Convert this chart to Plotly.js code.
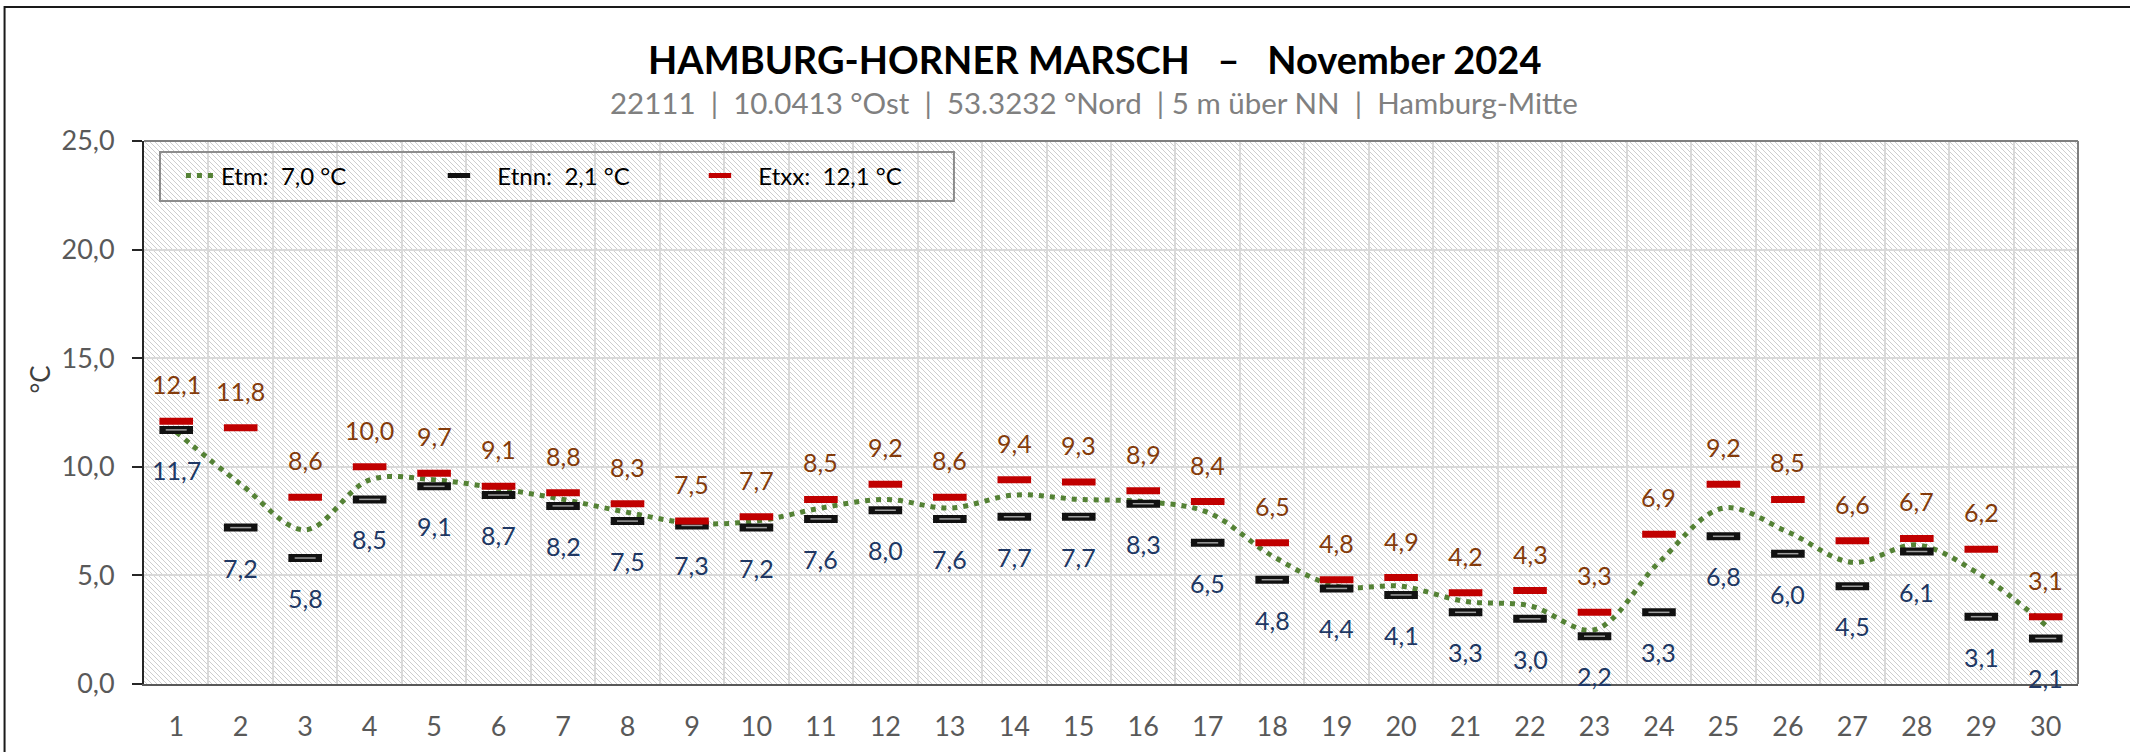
<!DOCTYPE html>
<html>
<head>
<meta charset="utf-8">
<script src="https://cdn.plot.ly/plotly-3.0.1.min.js"></script>
<style>
  html, body { margin: 0; padding: 0; background: #ffffff; }
  #chart { width: 2130px; height: 752px; }
</style>
</head>
<body>
<div id="chart"></div>
<script>
// ---- data ----
const days = [1,2,3,4,5,6,7,8,9,10,11,12,13,14,15,16,17,18,19,20,21,22,23,24,25,26,27,28,29,30];
const etm  = [11.6,9.2,7.1,9.4,9.4,9.0,8.5,7.9,7.4,7.5,8.1,8.5,8.1,8.7,8.5,8.4,7.9,5.9,4.5,4.5,3.8,3.6,2.5,5.6,8.1,7.0,5.6,6.4,5.0,2.7];
const etnn = [11.7,7.2,5.8,8.5,9.1,8.7,8.2,7.5,7.3,7.2,7.6,8.0,7.6,7.7,7.7,8.3,6.5,4.8,4.4,4.1,3.3,3.0,2.2,3.3,6.8,6.0,4.5,6.1,3.1,2.1];
const etxx = [12.1,11.8,8.6,10.0,9.7,9.1,8.8,8.3,7.5,7.7,8.5,9.2,8.6,9.4,9.3,8.9,8.4,6.5,4.8,4.9,4.2,4.3,3.3,6.9,9.2,8.5,6.6,6.7,6.2,3.1];
const seriesNames = ['Etm:\u00a0\u00a07,0 °C', '\u00a0\u00a0\u00a0Etnn:\u00a0\u00a02,1 °C', '\u00a0\u00a0\u00a0Etxx:\u00a0\u00a012,1 °C'];
const titleText = 'HAMBURG-HORNER MARSCH\u00a0\u00a0\u00a0–\u00a0\u00a0\u00a0November 2024';
const subtitleText = '22111\u00a0\u00a0|\u00a0\u00a010.0413 °Ost\u00a0\u00a0|\u00a0\u00a053.3232 °Nord\u00a0\u00a0|\u00a05 m über NN\u00a0\u00a0|\u00a0\u00a0Hamburg-Mitte';
const yTitle = '°C';

const FONT = 'Lato, "Open Sans", sans-serif';
const fmt = v => v.toFixed(1).replace('.', ',');
const xcats = days.map(String);

// hatch background for the plot area
const PW = 1934, PH = 543;
const hatchSvg =
  '<svg xmlns="http://www.w3.org/2000/svg" width="' + PW + '" height="' + PH + '">' +
  '<defs><pattern id="h" width="5" height="5" patternUnits="userSpaceOnUse">' +
  '<path d="M0,0 L5,5 M-1.25,3.75 L1.25,6.25 M3.75,-1.25 L6.25,1.25" stroke="#cecece" stroke-width="1"/>' +
  '</pattern></defs>' +
  '<rect width="100%" height="100%" fill="#ffffff"/>' +
  '<rect width="100%" height="100%" fill="url(#h)"/></svg>';
const hatchUri = 'data:image/svg+xml;base64,' + btoa(unescape(encodeURIComponent(hatchSvg)));

const traces = [
  {
    x: xcats, y: etm, type: 'scatter', mode: 'lines', name: seriesNames[0],
    line: {color: '#548235', width: 5, dash: '5px,6px', shape: 'spline', smoothing: 1},
    legendwidth: 213
  },
  {
    x: xcats, y: etnn, type: 'scatter', mode: 'markers', name: seriesNames[1],
    marker: {symbol: 'line-ew', size: 24, color: '#111111', line: {color: '#111111', width: 8}},
    legendwidth: 216
  },
  {
    x: xcats, y: etnn, type: 'scatter', mode: 'markers', showlegend: false, hoverinfo: 'skip',
    marker: {symbol: 'line-ew', size: 15, color: '#a0a0a0', line: {color: '#a0a0a0', width: 1.5}}
  },
  {
    x: xcats, y: etxx, type: 'scatter', mode: 'markers', name: seriesNames[2],
    marker: {symbol: 'line-ew', size: 24, color: '#c00000', line: {color: '#c00000', width: 7}},
    legendwidth: 170
  }
];

const annotations = [];
etxx.forEach((v, i) => annotations.push({
  x: i, y: v, xref: 'x', yref: 'y', text: fmt(v), showarrow: false, yshift: 37,
  font: {family: FONT, size: 25, color: '#843c0c'}
}));
etnn.forEach((v, i) => annotations.push({
  x: i, y: v, xref: 'x', yref: 'y', text: fmt(v), showarrow: false, yshift: -40,
  font: {family: FONT, size: 25, color: '#203864'}
}));
annotations.push({
  xref: 'paper', yref: 'paper', x: 0.491, y: 1.07, text: subtitleText, showarrow: false,
  xanchor: 'center', yanchor: 'middle', font: {family: FONT, size: 29.5, color: '#808080'}
});
annotations.push({
  xref: 'paper', yref: 'paper', x: -0.054, y: 0.56, text: yTitle, showarrow: false, textangle: -90,
  xanchor: 'center', yanchor: 'middle', font: {family: FONT, size: 26, color: '#404040'}
});

const layout = {
  width: 2130, height: 752,
  margin: {l: 144, r: 52, t: 141, b: 68, pad: 0},
  paper_bgcolor: '#ffffff',
  plot_bgcolor: 'rgba(0,0,0,0)',
  separators: ',.',
  font: {family: FONT, color: '#595959'},
  title: {
    text: '<b>' + titleText + '</b>',
    xref: 'paper', x: 0.4916, xanchor: 'center',
    yref: 'container', y: 0.919, yanchor: 'middle',
    font: {family: FONT, size: 38, color: '#000000'}
  },
  xaxis: {
    type: 'category', tickson: 'boundaries', range: [-0.5, 29.5], autorange: false,
    showgrid: true, gridcolor: '#d9d9d9', gridwidth: 2,
    ticks: '', ticklabelstandoff: 18,
    showline: true, linecolor: '#595959', linewidth: 2,
    tickfont: {family: FONT, size: 27, color: '#595959'},
    zeroline: false, fixedrange: true
  },
  yaxis: {
    range: [0, 25], autorange: false, dtick: 5, tick0: 0, tickformat: '.1f',
    showgrid: true, gridcolor: '#d9d9d9', gridwidth: 2,
    ticks: 'outside', ticklen: 10, tickwidth: 2, tickcolor: '#262626',
    ticklabelstandoff: 12,
    showline: true, linecolor: '#262626', linewidth: 2,
    tickfont: {family: FONT, size: 27, color: '#595959'},
    zeroline: false, fixedrange: true
  },
  showlegend: true,
  legend: {
    orientation: 'h', x: 0.0191, y: 0.9355, xanchor: 'left', yanchor: 'middle',
    bgcolor: 'rgba(0,0,0,0)', borderwidth: 0,
    font: {family: FONT, size: 24, color: '#000000'},
    traceorder: 'normal'
  },
  images: [{
    source: hatchUri, xref: 'paper', yref: 'paper', x: 0, y: 1, sizex: 1, sizey: 1,
    xanchor: 'left', yanchor: 'top', sizing: 'stretch', layer: 'below'
  }],
  shapes: [
    {type: 'line', xref: 'paper', yref: 'paper', x0: 0, x1: 1, y0: 1, y1: 1, line: {color: '#7f7f7f', width: 2}},
    {type: 'line', xref: 'paper', yref: 'paper', x0: 1, x1: 1, y0: 0, y1: 1, line: {color: '#7f7f7f', width: 2}},
    {type: 'rect', xref: 'paper', yref: 'paper', x0: 0.00827, x1: 0.4188, y0: 0.8895, y1: 0.9797,
     line: {color: '#8c8c8c', width: 2}, fillcolor: 'rgba(0,0,0,0)'},
    {type: 'rect', xref: 'paper', yref: 'paper', x0: -0.0721, x1: 1.2, y0: -0.3, y1: 1.2468,
     line: {color: '#1a1a1a', width: 2}, fillcolor: 'rgba(0,0,0,0)'}
  ],
  annotations: annotations
};

Plotly.newPlot('chart', traces, layout, {displayModeBar: false, staticPlot: true});
</script>
</body>
</html>
